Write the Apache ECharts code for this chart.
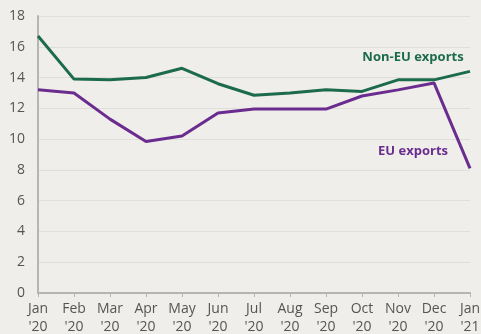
<!DOCTYPE html>
<html>
<head>
<meta charset="utf-8">
<script src="https://cdn.jsdelivr.net/npm/echarts@6/dist/echarts.min.js"></script>
<style>
  html, body { margin: 0; padding: 0; background: #efeeea; }
  #chart { width: 481px; height: 334px; }
</style>
</head>
<body>
<div id="chart"></div>
<script>
// Monthly exports, Jan 2020 - Jan 2021
const months = ['Jan', 'Feb', 'Mar', 'Apr', 'May', 'Jun', 'Jul', 'Aug', 'Sep', 'Oct', 'Nov', 'Dec', 'Jan']
const years = ["'20", "'20", "'20", "'20", "'20", "'20", "'20", "'20", "'20", "'20", "'20", "'20", "'21"]
const nonEu = [16.7, 13.9, 13.85, 14.0, 14.6, 13.6, 12.85, 13.0, 13.2, 13.1, 13.85, 13.85, 14.4]
const eu = [13.2, 13.0, 11.3, 9.85, 10.2, 11.7, 11.95, 11.95, 11.95, 12.8, 13.2, 13.65, 8.1]

const categories = months.map((m, i) => m + '\n' + years[i])
const green = '#1c6b4c'
const purple = '#6a2d8f'

const chart = echarts.init(document.getElementById('chart'))

const endMark = (data, name, color, offset) => ({
  symbol: 'circle',
  symbolSize: 0,
  data: [{
    coord: [categories.length - 1, data[data.length - 1]],
    label: {
      show: true,
      formatter: name,
      position: 'inside',
      offset: offset,
      color: color,
      fontWeight: 'bold',
      fontSize: 13,
      fontFamily: 'Open Sans'
    }
  }]
})

chart.setOption({
  backgroundColor: '#efeeea',
  animation: false,
  grid: { left: 38, right: 11, top: 16, bottom: 41, outerBoundsMode: 'none' },
  xAxis: {
    type: 'category',
    data: categories,
    boundaryGap: false,
    axisLine: { lineStyle: { color: '#b5b5b2', width: 2 } },
    axisTick: { show: true, length: 4, lineStyle: { color: '#b5b5b2' } },
    axisLabel: {
      color: '#555',
      fontSize: 14,
      fontFamily: 'Open Sans',
      lineHeight: 18,
      margin: 7,
      interval: 0
    },
    splitLine: { show: false }
  },
  yAxis: {
    type: 'value',
    min: 0,
    max: 18,
    interval: 2,
    axisLine: { show: true, lineStyle: { color: '#b5b5b2', width: 2 } },
    axisTick: { show: false },
    axisLabel: { color: '#555', fontSize: 14, fontFamily: 'Open Sans', margin: 13 },
    splitLine: { lineStyle: { color: '#dfded9', width: 1 } }
  },
  series: [
    {
      name: 'Non-EU exports',
      type: 'line',
      data: nonEu,
      showSymbol: false,
      lineStyle: { color: green, width: 3 },
      itemStyle: { color: green },
      markPoint: endMark(nonEu, 'Non-EU exports', green, [-57, -14])
    },
    {
      name: 'EU exports',
      type: 'line',
      data: eu,
      showSymbol: false,
      lineStyle: { color: purple, width: 3 },
      itemStyle: { color: purple },
      markPoint: endMark(eu, 'EU exports', purple, [-57, -17])
    }
  ]
})
</script>
</body>
</html>
